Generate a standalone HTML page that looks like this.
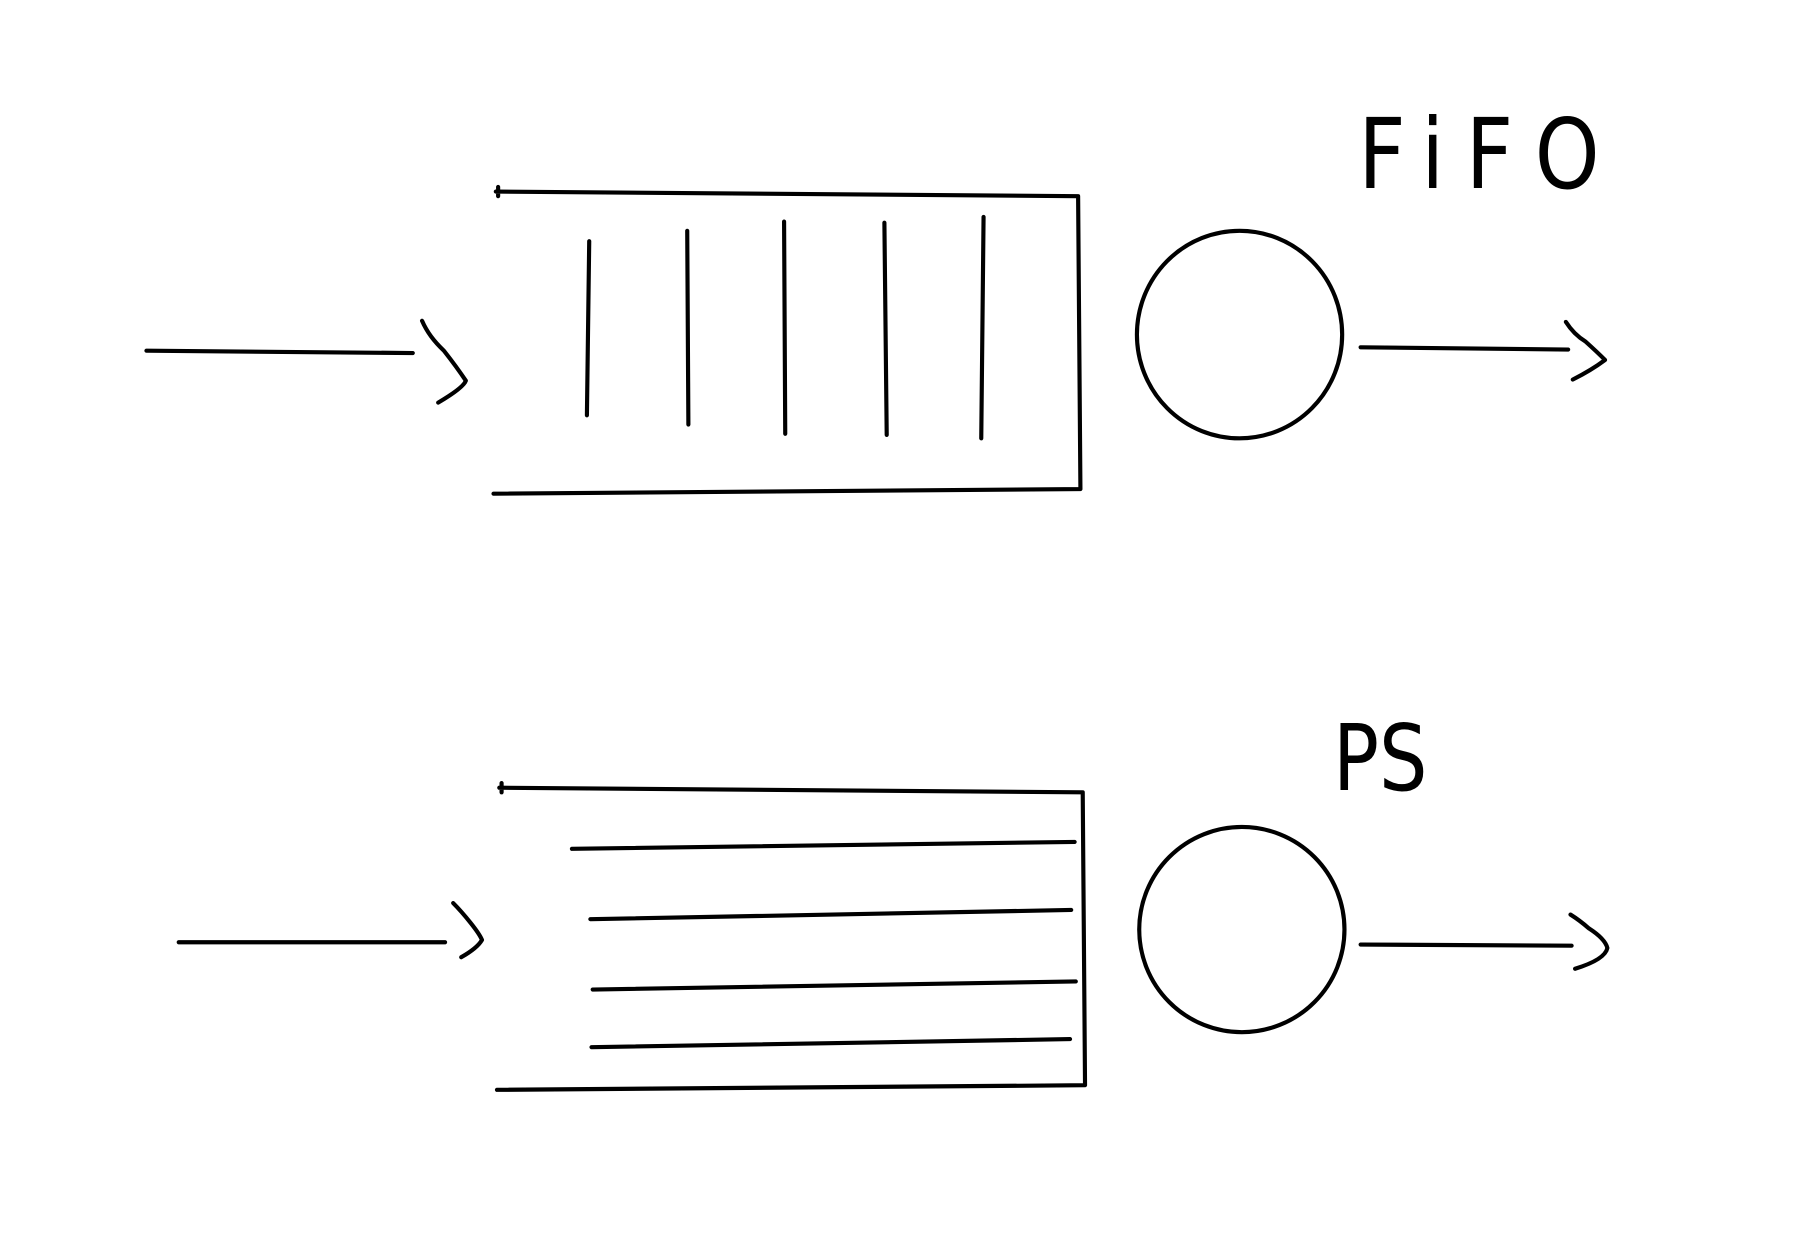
<!DOCTYPE html>
<html><head><meta charset="utf-8"><style>
html,body{margin:0;padding:0;background:#fff;}
svg{display:block;}
</style></head><body>
<svg width="1808" height="1248" viewBox="0 0 1568 1082" xmlns="http://www.w3.org/2000/svg">
<rect width="1568" height="1082" fill="#fff"/>
<g fill="none" stroke="#000" stroke-width="3.6" stroke-linecap="round" stroke-linejoin="round">
 <g>
  <path d="M127,304 L358,306 M366,278 Q372,292 385,304 Q396,318 404,330 Q402,336 380,349"/>
  <path d="M430,166 L935,170 L937,424 L428,428 M432,162 L432,170"/>
  <path d="M511,209 L509,360 M596,200 L597,368 M680,192 L681,376 M767,193 L769,377 M853,188 L851,380"/>
  <ellipse cx="1075" cy="290" rx="89" ry="90"/>
  <path d="M1180,301 L1360,303 M1358,279 Q1365,290 1375,296 Q1385,305 1392,312 Q1380,321 1364,329"/>
 </g>
 <g>
  <path d="M155,817 L386,817 M393,783 Q400,790 408,800 Q416,810 418,815 Q414,822 400,830"/>
  <path d="M433,683 L939,687 L941,941 L431,945 M435,679 L435,687"/>
  <path d="M496,736 L932,730 M512,797 L929,789 M514,858 L933,851 M513,908 L928,901"/>
  <ellipse cx="1077" cy="806" rx="89" ry="89"/>
  <path d="M1180,819 L1363,820 M1362,793 Q1370,798 1378,805 Q1392,814 1394,822 Q1392,832 1366,840"/>
 </g>
</g>
<text x="1178" y="163" font-family="'DejaVu Sans', 'Liberation Sans', sans-serif" font-size="84" font-weight="normal" letter-spacing="22" fill="#000" textLength="228" lengthAdjust="spacingAndGlyphs">FiFO</text>
<text x="1156" y="685" font-family="'DejaVu Sans', 'Liberation Sans', sans-serif" font-size="80" fill="#000" textLength="82" lengthAdjust="spacingAndGlyphs">PS</text>
</svg>
</body></html>
